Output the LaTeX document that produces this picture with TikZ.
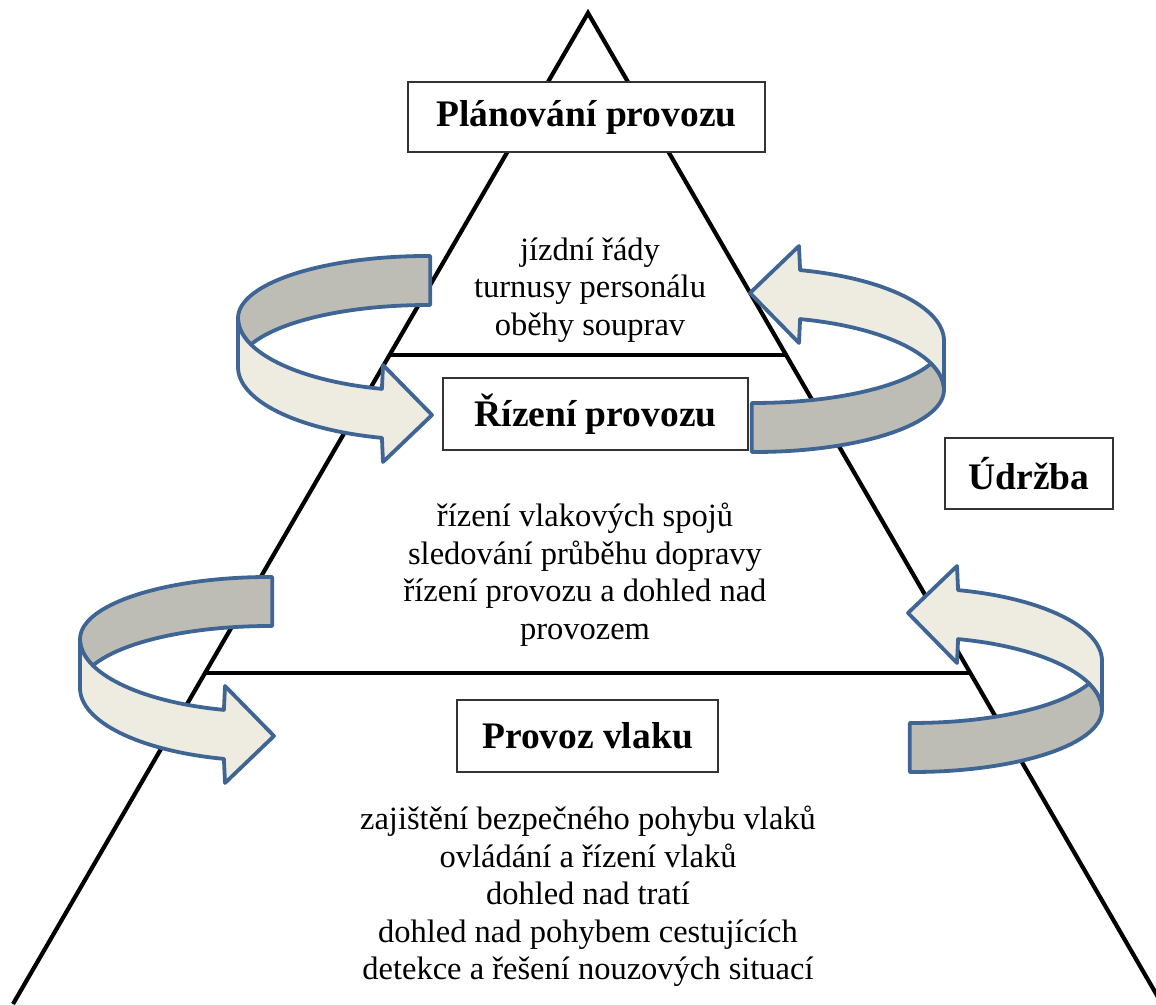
\documentclass[tikz,border=0pt]{standalone}
\usepackage{fontspec}
\setmainfont{Liberation Serif}
\usepackage{tikz}
\usetikzlibrary{calc}
\definecolor{Band}     {HTML}{3F6594}
\definecolor{BandBack} {HTML}{BEBDB5}
\definecolor{BandFront}{HTML}{EEECE1}
\tikzset{
  band back/.style={draw=Band, fill=BandBack, line width=3.8pt, line join=round},
  band front/.style={draw=Band, fill=BandFront, line width=3.8pt, line join=round},
  loop arrow/.pic={
    % far side of the ribbon
    \draw[band back] (89:189pt and 62pt)
      arc[start angle=89, end angle=180, x radius=189pt, y radius=62pt]
      arc[start angle=180, end angle=201.3, x radius=189pt, y radius=73pt]
      arc[start angle=158.7, end angle=89, x radius=189pt, y radius=62pt] -- cycle;
    % near side of the ribbon with the head
    \draw[band front] (-189,0) -- (-189,-49)
      arc[start angle=180, end angle=256.2, x radius=189pt, y radius=73pt]
      -- (-44,-144) -- (5,-97) -- (-44,-47) -- (256.2:189pt and 73pt)
      arc[start angle=256.2, end angle=180, x radius=189pt, y radius=73pt] -- cycle;
  },
}

\begin{document}
\begin{tikzpicture}[x=1pt, y=1pt,
    level/.style={draw=black!80, line width=1.8pt, fill=white, inner sep=0pt,
                  font=\fontsize{37.5}{45}\selectfont\bfseries},
    detail/.style={align=center, font=\fontsize{32.5}{37.5}\selectfont},
    pyramid/.style={line width=4.2pt}]
  \useasboundingbox (0,0) rectangle (1156,1004);
  % Pyramid
  \coordinate (apex) at (588,991);
  \coordinate (bl) at (13,0);
  \coordinate (br) at (1162,0);
  \coordinate (s1l) at ($(apex)!0.3451!(bl)$);
  \coordinate (s1r) at ($(apex)!0.3451!(br)$);
  \coordinate (s2l) at ($(apex)!0.666!(bl)$);
  \coordinate (s2r) at ($(apex)!0.666!(br)$);
  \draw[pyramid] (bl) -- (apex) -- (br);
  \draw[pyramid] (s1l) -- (s1r);
  \draw[pyramid] (s2l) -- (s2r);
  % Levels
  \node[level, minimum width=357pt, minimum height=70pt] (plan)   at (586.5,887) {Plánování provozu};
  \node[level, minimum width=305pt, minimum height=72pt] (rizeni) at (595.5,590) {Řízení provozu};
  \node[level, minimum width=261pt, minimum height=72pt] (provoz) at (587.5,268) {Provoz vlaku};
  \node[level, minimum width=168pt, minimum height=71pt] (udrzba) at (1029,530.5) {Údržba};
  % Tasks of each level
  \node[detail] (planlist)   at (590,714) {jízdní řády\\turnusy personálu\\oběhy souprav};
  \node[detail] (rizenilist) at (585,429.5) {řízení vlakových spojů\\sledování průběhu dopravy\\řízení provozu a dohled nad\\provozem};
  \node[detail] (provozlist) at (588,107.5) {zajištění bezpečného pohybu vlaků\\ovládání a řízení vlaků\\dohled nad tratí\\dohled nad pohybem cestujících\\detekce a řešení nouzových situací};
  % Loop arrows
  \pic at (427,686) {loop arrow};
  \pic at (269,365) {loop arrow};
  \pic[rotate=180] at (755,614) {loop arrow};
  \pic[rotate=180] at (913,294) {loop arrow};
\end{tikzpicture}
\end{document}
